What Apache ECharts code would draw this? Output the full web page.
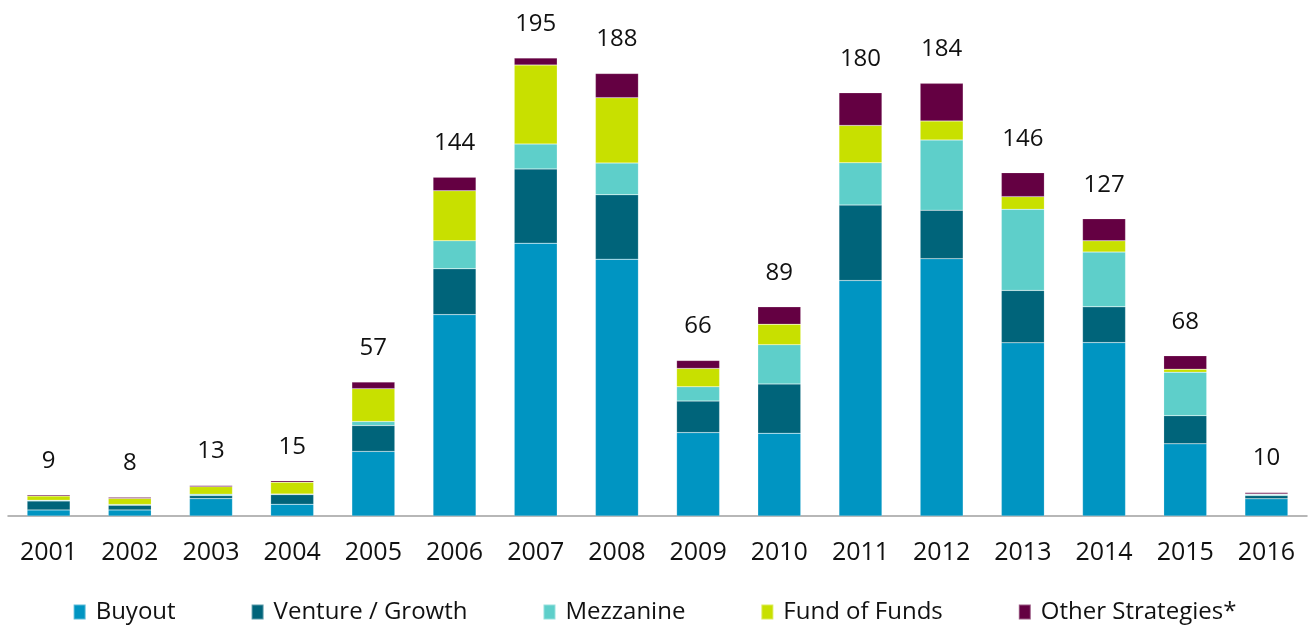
<!DOCTYPE html>
<html>
<head>
<meta charset="utf-8">
<script src="https://cdn.jsdelivr.net/npm/echarts@6/dist/echarts.min.js"></script>
<style>
  html, body { margin: 0; padding: 0; background: #fff; }
  #chart { width: 1309px; height: 625px; }
</style>
</head>
<body>
<div id="chart"></div>
<script>
const years = ["2001", "2002", "2003", "2004", "2005", "2006", "2007", "2008",
  "2009", "2010", "2011", "2012", "2013", "2014", "2015", "2016"];

const buyout = [2.6, 2.6, 7.4, 5.0, 27.5, 85.7, 116.1, 109.3, 35.5, 35.2, 100.2, 109.5, 73.7, 73.8, 30.7, 7.3];
const venture = [3.8, 2.0, 1.3, 4.1, 11.0, 19.5, 31.6, 27.4, 13.4, 21.0, 32.1, 20.6, 22.3, 15.2, 12.0, 1.4];
const mezzanine = [0.3, 0.3, 0.6, 0.3, 1.7, 11.9, 10.6, 13.5, 6.1, 16.7, 18.0, 29.9, 34.5, 23.3, 18.5, 0.4];
const fundOfFunds = [1.8, 2.6, 3.2, 5.0, 14.0, 21.3, 33.6, 27.8, 7.8, 8.7, 15.9, 8.1, 5.4, 4.8, 1.3, 0.3];
const otherStrategies = [0.5, 0.5, 0.5, 0.6, 2.8, 5.8, 3.0, 10.3, 3.4, 7.4, 13.9, 16.0, 10.2, 9.4, 5.7, 0.6];

const totals = [9, 8, 13, 15, 57, 144, 195, 188, 66, 89, 180, 184, 146, 127, 68, 10];

const colors = ["#0095c2", "#00647a", "#5ecfca", "#c8e000", "#640042"];
const font = "'Open Sans', 'DejaVu Sans', sans-serif";

const chart = echarts.init(document.getElementById("chart"));

const makeSeries = (name, data, withTotal) => {
  const s = {
    name: name,
    type: "bar",
    stack: "total",
    barWidth: 43,
    data: data,
    itemStyle: { borderColor: "rgba(255,255,255,0.35)", borderWidth: 0.5 },
  };
  if (withTotal) {
    // total of the stack, shown above the top segment
    s.label = {
      show: true,
      position: "top",
      distance: 22,
      fontFamily: font,
      fontSize: 24,
      color: "#111",
      formatter: (p) => totals[p.dataIndex],
    };
  }
  return s;
};

const option = {
  color: colors,
  animation: false,
  textStyle: { fontFamily: font },
  grid: { left: 8, right: 2, top: 46, bottom: 109 },
  legend: {
    top: 595,
    left: "center",
    icon: "rect",
    itemWidth: 12,
    itemHeight: 15,
    itemGap: 75,
    textStyle: { fontFamily: font, fontSize: 24, color: "#111", padding: [0, 0, 0, 5] },
  },
  xAxis: {
    type: "category",
    data: years,
    axisTick: { show: false },
    axisLine: { lineStyle: { color: "#a0a0a0", width: 1.5 } },
    axisLabel: { fontFamily: font, fontSize: 25, color: "#111", margin: 24 },
  },
  yAxis: {
    type: "value",
    min: 0,
    max: 200,
    show: false,
    splitLine: { show: false },
  },
  series: [
    makeSeries("Buyout", buyout),
    makeSeries("Venture / Growth", venture),
    makeSeries("Mezzanine", mezzanine),
    makeSeries("Fund of Funds", fundOfFunds),
    makeSeries("Other Strategies*", otherStrategies, true),
  ],
};

option && chart.setOption(option);

window.addEventListener("resize", () => chart.resize());
</script>
</body>
</html>
